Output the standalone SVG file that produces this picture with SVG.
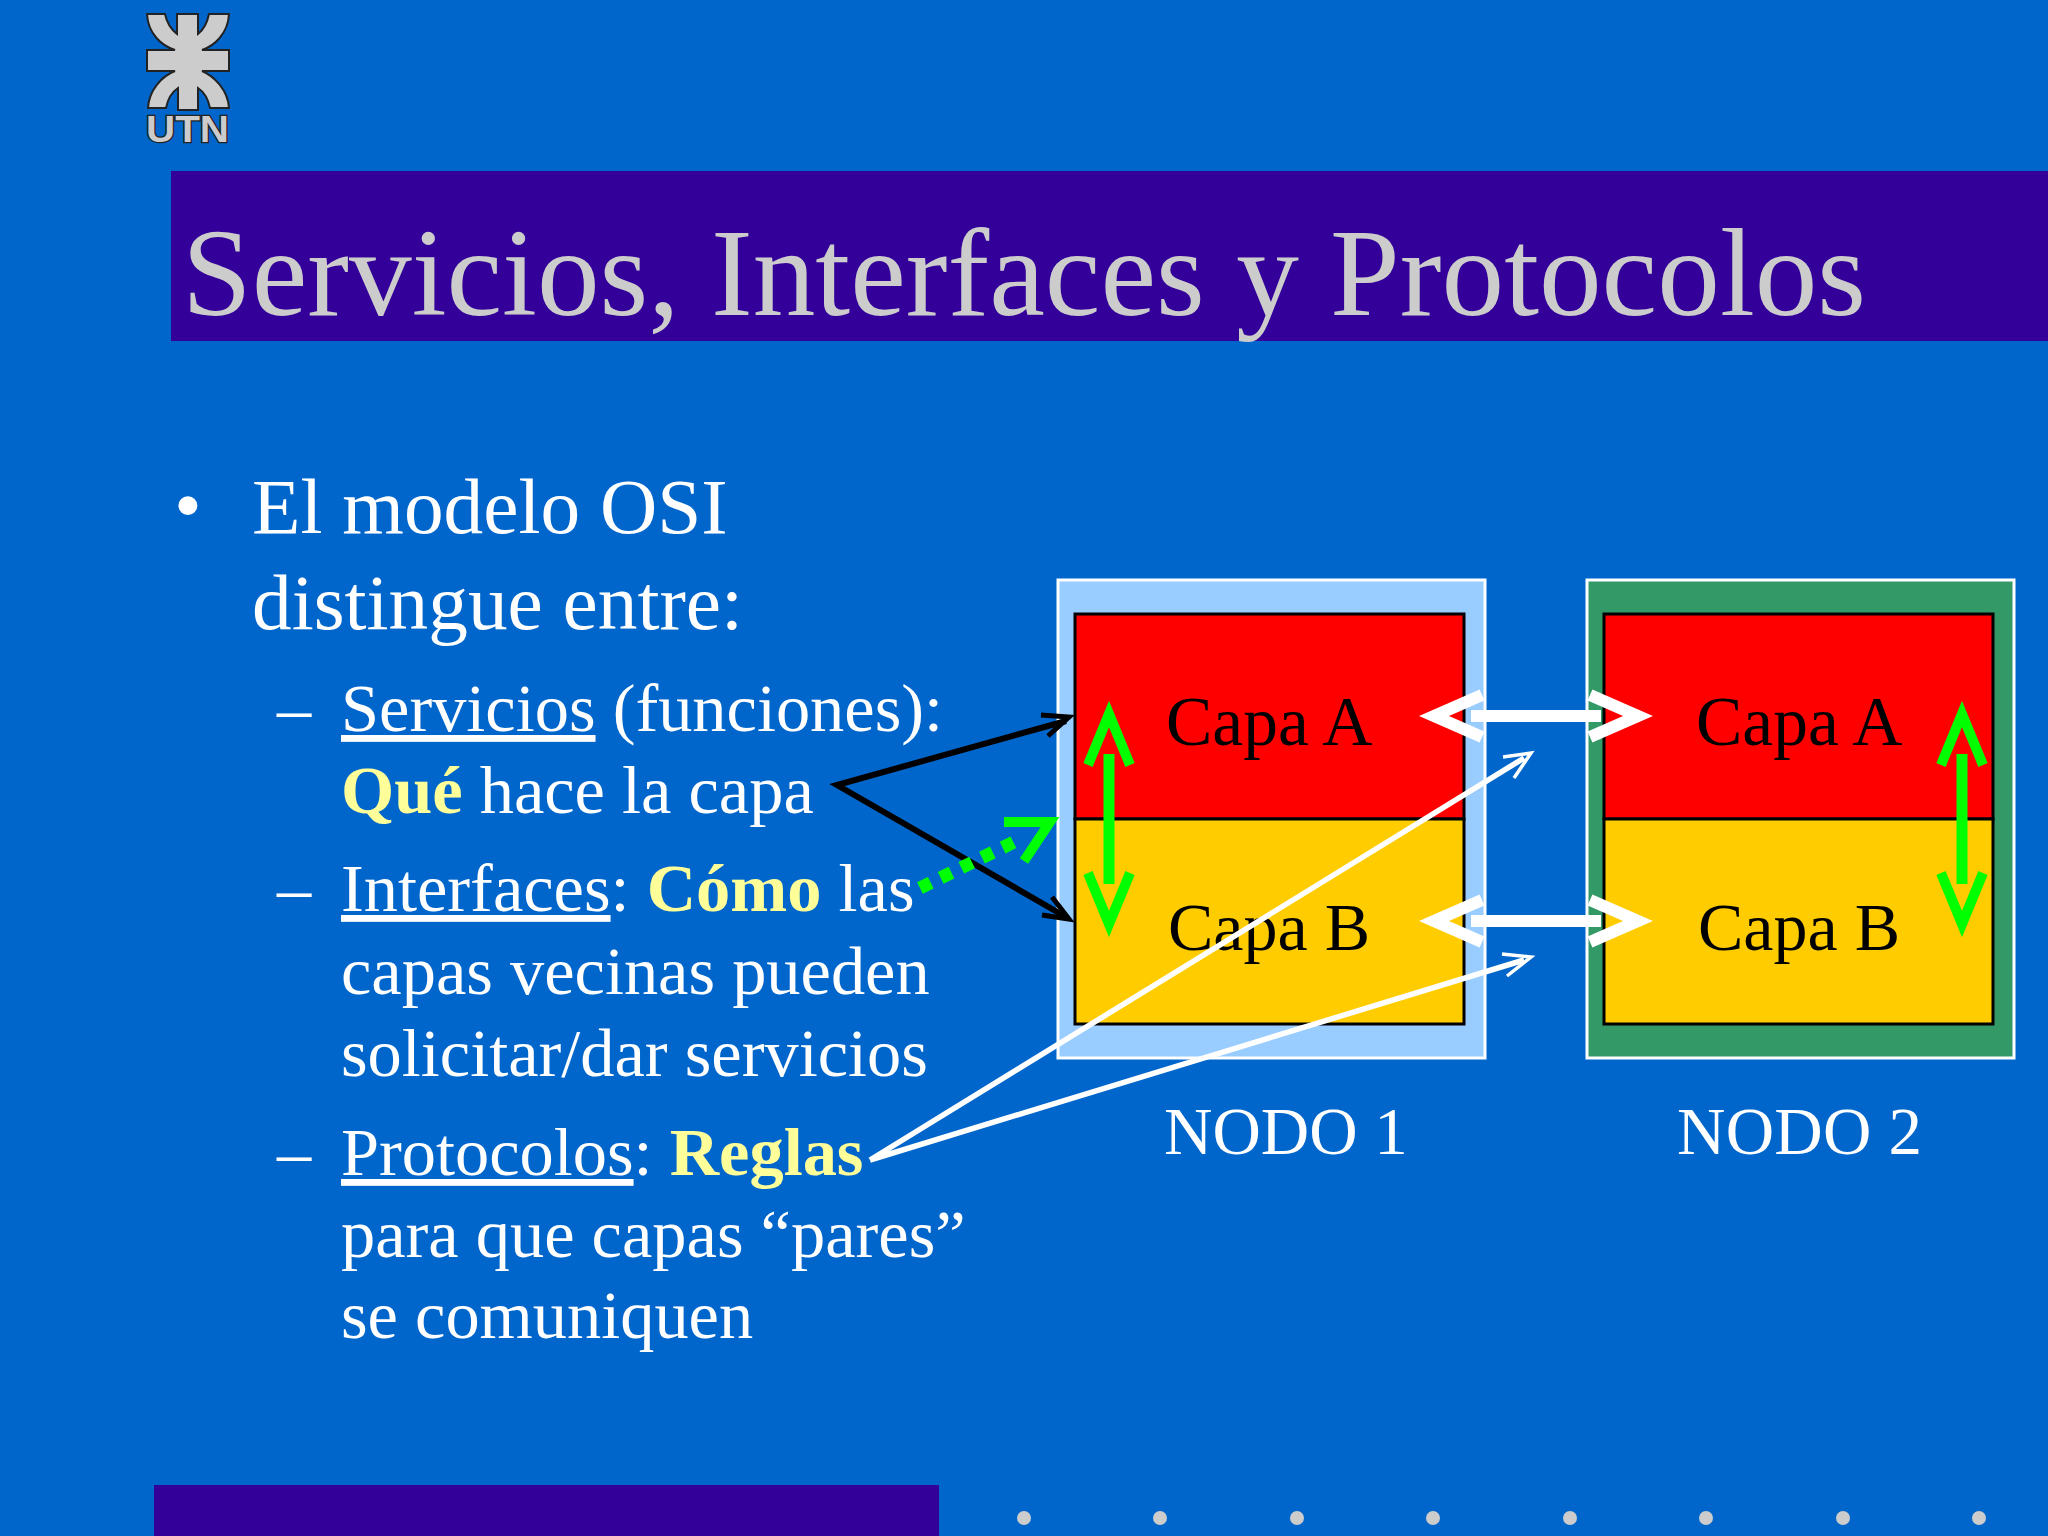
<svg xmlns="http://www.w3.org/2000/svg" width="2048" height="1536" viewBox="0 0 2048 1536">
<style>
text{font-family:"Liberation Serif","Times New Roman",serif}
.t1{font-size:79.3px;fill:#fff}
.t2{font-size:68.4px;fill:#fff}
.y{font-weight:bold;fill:#ffff99}
.u{text-decoration:underline}
.cap{font-size:69.5px;fill:#000}
.capb{font-size:68px;fill:#000}
.nod{font-size:67px;fill:#fff}
.layerA{fill:#f00;stroke:#000;stroke-width:3}
.layerB{fill:#fc0;stroke:#000;stroke-width:3}
.frame{stroke:#fff;stroke-width:3}
.gl{fill:none;stroke:#0f0;stroke-width:11}
.gh{fill:none;stroke:#0f0;stroke-width:10}
.wl{fill:none;stroke:#fff;stroke-width:12}
.thin{fill:none;stroke:#fff;stroke-width:5.5}
.blk{fill:none;stroke:#000;stroke-width:6}
.dot{fill:#ccc}
</style>
<rect width="2048" height="1536" fill="#0066cc"/>
<g id="logo" fill="#ccc" stroke="#222" stroke-width="2">
<path d="M147 14H165C167 24 172 30 177 34V14H198V34C203 30 207 24 209 14H229C228 34 214 46 202 50H229V71H202C214 76 228 90 229 108H210C208 98 204 92 198 88V110H178V88C172 92 168 98 166 108H148C149 90 162 76 175 71H147V50H175C162 46 148 34 147 14Z"/>
<text x="146" y="142" font-size="36" font-weight="bold" textLength="83" lengthAdjust="spacingAndGlyphs" style="font-family:'Liberation Sans',Arial,sans-serif;paint-order:stroke" stroke-width="2.5">UTN</text>
</g>
<g id="title">
<rect x="171" y="171" width="1877" height="170" fill="#330099"/>
<text x="182" y="315" font-size="125.3" fill="#ccc">Servicios, Interfaces y Protocolos</text>
</g>
<g id="body">
<text x="174" y="532" class="t1">•</text>
<text x="252" y="533" class="t1">El modelo OSI</text>
<text x="252" y="629" class="t1">distingue entre:</text>
<text x="277" y="731" class="t2">–</text>
<text x="341" y="731" class="t2"><tspan class="u">Servicios</tspan> (funciones):</text>
<text x="341" y="813" class="t2"><tspan class="y">Qué</tspan> hace la capa</text>
<text x="277" y="911" class="t2">–</text>
<text x="341" y="911" class="t2"><tspan class="u">Interfaces</tspan>: <tspan class="y">Cómo</tspan> las</text>
<text x="341" y="994" class="t2">capas vecinas pueden</text>
<text x="341" y="1076" class="t2">solicitar/dar servicios</text>
<text x="277" y="1175" class="t2">–</text>
<text x="341" y="1175" class="t2"><tspan class="u">Protocolos</tspan>: <tspan class="y">Reglas</tspan></text>
<text x="341" y="1257" class="t2">para que capas “pares”</text>
<text x="341" y="1338" class="t2">se comuniquen</text>
</g>
<g id="nodo1">
<rect class="frame" x="1058" y="580" width="427" height="478" fill="#99ccff"/>
<rect class="layerA" x="1075" y="614" width="389" height="205"/>
<rect class="layerB" x="1075" y="819" width="389" height="205"/>
<text x="1166" y="745" class="cap">Capa A</text>
<text x="1168" y="950" class="capb">Capa B</text>
<text x="1164" y="1154" class="nod">NODO 1</text>
</g>
<g id="nodo2">
<rect class="frame" x="1587" y="580" width="427" height="478" fill="#339966"/>
<rect class="layerA" x="1604" y="614" width="389" height="205"/>
<rect class="layerB" x="1604" y="819" width="389" height="205"/>
<text x="1696" y="745" class="cap">Capa A</text>
<text x="1698" y="950" class="capb">Capa B</text>
<text x="1677" y="1154" class="nod" textLength="245">NODO 2</text>
</g>
<g id="connectors">
<path class="gl" d="M1109 754V884"/>
<path class="gh" d="M1088 765L1109 714L1130 765M1088 873L1109 924L1130 873"/>
<path class="gl" d="M1962 754V884"/>
<path class="gh" d="M1941 765L1962 714L1983 765M1941 873L1962 924L1983 873"/>
<path class="wl" d="M1471 716H1601M1482 695L1434 716L1482 737M1590 695L1638 716L1590 737"/>
<path class="wl" d="M1471 921H1601M1482 900L1434 921L1482 942M1590 900L1638 921L1590 942"/>
<path class="blk" d="M1066 721L837 785L1066 917"/>
<path fill="none" stroke="#000" stroke-width="5" d="M1041 715L1069 717L1048 736M1042 915L1069 919L1052 897"/>
<path d="M920 888L1016 841" fill="none" stroke="#0f0" stroke-width="13" stroke-dasharray="12 11"/>
<path class="gh" stroke-width="9" d="M1004 822L1050 822L1024 861"/>
<path class="thin" d="M870 1160L1524 758M870 1160L1524 960"/>
<path fill="none" stroke="#fff" stroke-width="3.5" d="M1503 757L1531 753L1514 778M1502 954L1531 957L1507 976"/>
</g>
<g id="footer">
<rect x="154" y="1485" width="785" height="51" fill="#330099"/>
<circle class="dot" cx="1024" cy="1518" r="7"/>
<circle class="dot" cx="1160" cy="1518" r="7"/>
<circle class="dot" cx="1297" cy="1518" r="7"/>
<circle class="dot" cx="1433" cy="1518" r="7"/>
<circle class="dot" cx="1570" cy="1518" r="7"/>
<circle class="dot" cx="1706" cy="1518" r="7"/>
<circle class="dot" cx="1843" cy="1518" r="7"/>
<circle class="dot" cx="1979" cy="1518" r="7"/>
</g>
</svg>
